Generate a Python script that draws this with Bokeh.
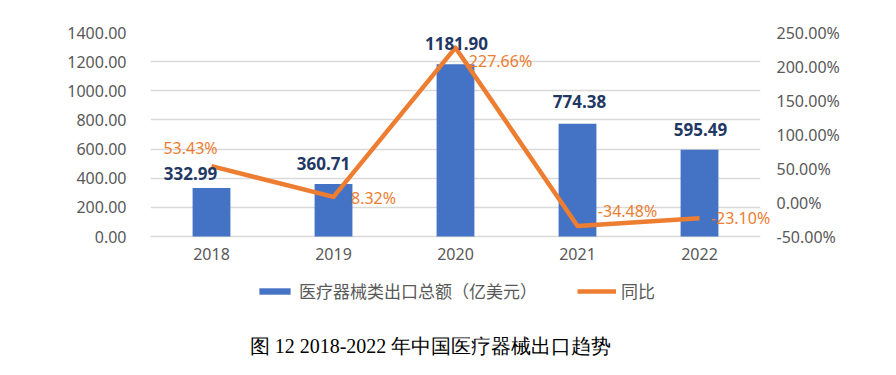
from bokeh.plotting import figure
from bokeh.models import (FactorRange, Range1d, LinearAxis, FixedTicker, Legend, LegendItem,
                          Label, ColumnDataSource, CustomJSTickFormatter, NumeralTickFormatter)
from bokeh.embed import file_html
from bokeh.resources import INLINE
from bokeh.core.properties import value

# ---- data ----
years = ["2018", "2019", "2020", "2021", "2022"]
exports = [332.99, 360.71, 1181.90, 774.38, 595.49]      # 亿美元
yoy = [53.43, 8.32, 227.66, -34.48, -23.10]               # %
left_ticks = [0, 200, 400, 600, 800, 1000, 1200, 1400]
right_ticks = [-50, 0, 50, 100, 150, 200, 250]

# label offsets (screen px) — styling only
bar_lbl_dx = [-21, -10, 1, 2, 1]
bar_lbl_dy = [-14, -20, -21, -22, -20]
yoy_lbl_dx = [-21, 40, 45, 50, 41]
yoy_lbl_dy = [-18, 1, 13, -15, 0]

BLUE = "#4472C4"
ORANGE = "#ED7D31"
NAVY = "#1F3864"
GRAY = "#595959"
FONT = "Noto Sans"
CJK = "Noto Sans CJK SC"

# layout geometry: value area is 204px tall, extra 131px below it for legend + caption
PLOT_H = 204
EXTRA_H = 131
L_MIN, L_MAX = 0, 1400
R_MIN, R_MAX = -50, 250
l_bottom = L_MIN - (L_MAX - L_MIN) * EXTRA_H / PLOT_H
r_bottom = R_MIN - (R_MAX - R_MIN) * EXTRA_H / PLOT_H

src = ColumnDataSource(dict(
    year=years, exp=exports, yoy=yoy,
    exp_lbl=[f"{v:.2f}" for v in exports],
    yoy_lbl=[f"{v:.2f}%" for v in yoy],
    bdx=bar_lbl_dx, bdy=bar_lbl_dy, ydx=yoy_lbl_dx, ydy=yoy_lbl_dy,
))

p = figure(x_range=FactorRange(*years), y_range=Range1d(l_bottom, L_MAX),
           frame_width=610, frame_height=PLOT_H + EXTRA_H,
           min_border_left=150, min_border_right=128, min_border_top=32, min_border_bottom=0,
           output_backend="svg", toolbar_location=None, outline_line_color=None)
p.extra_y_ranges = {"yoy": Range1d(r_bottom, R_MAX)}

# axes
p.yaxis.ticker = FixedTicker(ticks=left_ticks)
p.yaxis.formatter = NumeralTickFormatter(format="0.00")
p.yaxis.major_label_standoff = 18
ra = LinearAxis(y_range_name="yoy", ticker=FixedTicker(ticks=right_ticks),
                formatter=CustomJSTickFormatter(code="return tick.toFixed(2) + '%';"))
ra.major_label_standoff = 10
p.add_layout(ra, "right")
p.xaxis.fixed_location = 0
p.xaxis.major_label_standoff = 5
for ax in [p.yaxis[0], ra, p.xaxis[0]]:
    ax.axis_line_color = None
    ax.major_tick_line_color = None
    ax.minor_tick_line_color = None
    ax.major_label_text_color = GRAY
    ax.major_label_text_font = FONT
    ax.major_label_text_font_size = "16px"
p.xgrid.grid_line_color = None
p.ygrid.grid_line_color = "#D9D9D9"
p.ygrid.grid_line_width = 1.3

bars = p.vbar(x="year", top="exp", width=0.31, source=src, color=BLUE, line_color=None)
line = p.line(x="year", y="yoy", source=src, y_range_name="yoy", line_color=ORANGE,
              line_width=4.5, line_join="round")

p.text(x="year", y="exp", text="exp_lbl", source=src, x_offset="bdx", y_offset="bdy",
       text_align="center", text_baseline="middle", text_color=NAVY,
       text_font=value(FONT), text_font_size="17px", text_font_style="bold", level="overlay")
p.text(x="year", y="yoy", text="yoy_lbl", source=src, y_range_name="yoy",
       x_offset="ydx", y_offset="ydy", text_align="center", text_baseline="middle",
       text_color=ORANGE, text_font=value(FONT), text_font_size="16px", level="overlay")

legend = Legend(items=[LegendItem(label="医疗器械类出口总额（亿美元）", renderers=[bars]),
                       LegendItem(label="同比", renderers=[line])],
                orientation="horizontal", location=(105, 64),
                glyph_width=39, glyph_height=8, label_standoff=5, spacing=40,
                padding=0, margin=0, border_line_color=None, background_fill_alpha=0,
                label_text_font=CJK, label_text_font_size="17px", label_text_color=GRAY)
p.add_layout(legend, "center")

caption = Label(x=280, y=22, x_units="screen", y_units="screen",
                text="图 12 2018-2022 年中国医疗器械出口趋势", text_align="center",
                text_baseline="middle", text_font="Liberation Serif",
                text_font_size="20px", text_color="#000000")
p.add_layout(caption)

open("out.html", "w").write(file_html(p, INLINE))
